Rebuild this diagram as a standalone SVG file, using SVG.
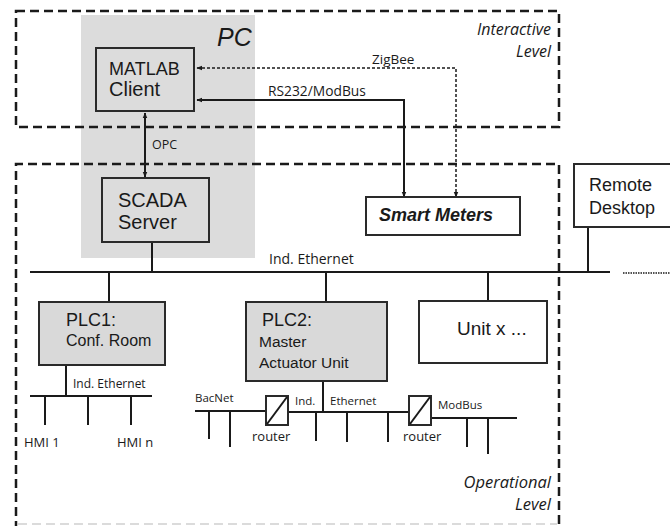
<svg xmlns="http://www.w3.org/2000/svg" width="670" height="526" viewBox="0 0 670 526">
<defs>
<marker id="ah" viewBox="0 0 10 10" refX="9" refY="5" markerWidth="6" markerHeight="6" orient="auto-start-reverse" markerUnits="userSpaceOnUse">
<path d="M0,1 L10,5 L0,9 z" fill="#1a1a1a"/>
</marker>
<style>
.lvl{fill:none;stroke:#1a1a1a;stroke-width:2.5;stroke-dasharray:9 5}
.box{stroke:#2a2a2a;stroke-width:2;fill:none}
.gbox{stroke:#2a2a2a;stroke-width:2;fill:#d9d9d9}
.wbox{stroke:#2a2a2a;stroke-width:2;fill:#fff}
.ln{stroke:#1a1a1a;stroke-width:2;fill:none}
.t{font-family:"Liberation Sans",Arial,sans-serif;fill:#1a1a1a}
.c{font-family:"Open Sans","Noto Sans",sans-serif;fill:#1a1a1a}
.it{font-style:italic}
</style>
</defs>
<rect x="0" y="0" width="670" height="526" fill="#fff"/>
<g id="pc">
<rect x="81" y="15" width="174" height="243" fill="#dcdcdc"/>
<text class="t it" x="217" y="46" font-size="25">PC</text>
</g>
<g id="interactive-level">
<rect class="lvl" x="16" y="11" width="543" height="116"/>
<text class="c it" x="551" y="35" font-size="16" text-anchor="end">Interactive</text>
<text class="c it" x="551" y="57" font-size="16" text-anchor="end">Level</text>
</g>
<g id="operational-level">
<path class="lvl" d="M16,530 L16,164 L559,164 L559,524"/>
<path d="M18,524 L557,524" fill="none" stroke="#d0d0d0" stroke-width="1.5" stroke-dasharray="9 5"/>
<text class="c it" x="551" y="488" font-size="16.5" text-anchor="end">Operational</text>
<text class="c it" x="551" y="510" font-size="16.5" text-anchor="end">Level</text>
</g>
<g id="connectors">
<line class="ln" x1="145" y1="113" x2="145" y2="177" marker-start="url(#ah)" marker-end="url(#ah)"/>
<polyline points="456,197 456,68 197,68" fill="none" stroke="#1a1a1a" stroke-width="1.5" stroke-dasharray="3 2" marker-start="url(#ah)" marker-end="url(#ah)"/>
<polyline class="ln" points="404,197 404,100 197,100" marker-start="url(#ah)" marker-end="url(#ah)" stroke-width="1.6"/>
<line class="ln" x1="30" y1="272" x2="610" y2="272"/>
<line x1="623" y1="273" x2="670" y2="273" stroke="#1a1a1a" stroke-width="1.5" stroke-dasharray="1.5 1"/>
<line class="ln" x1="152" y1="242" x2="152" y2="272"/>
<line class="ln" x1="109" y1="272" x2="109" y2="302"/>
<line class="ln" x1="326" y1="272" x2="326" y2="302"/>
<line class="ln" x1="488" y1="272" x2="488" y2="301"/>
<line class="ln" x1="588" y1="227" x2="588" y2="272"/>
<line class="ln" x1="66" y1="365" x2="66" y2="396"/>
<line class="ln" x1="30" y1="396" x2="152" y2="396"/>
<line class="ln" x1="45" y1="396" x2="45" y2="425"/>
<line class="ln" x1="88" y1="396" x2="88" y2="425"/>
<line class="ln" x1="131" y1="396" x2="131" y2="425"/>
<line class="ln" x1="323" y1="381" x2="323" y2="411"/>
<line class="ln" x1="195" y1="411" x2="266" y2="411"/>
<line class="ln" x1="209" y1="411" x2="209" y2="439"/>
<line class="ln" x1="230" y1="411" x2="230" y2="447"/>
<line class="ln" x1="288" y1="412" x2="411" y2="412"/>
<line class="ln" x1="316" y1="412" x2="316" y2="441"/>
<line class="ln" x1="347" y1="412" x2="347" y2="442"/>
<line class="ln" x1="388" y1="412" x2="388" y2="442"/>
<line class="ln" x1="431" y1="418" x2="517" y2="418"/>
<line class="ln" x1="467" y1="418" x2="467" y2="447"/>
<line class="ln" x1="488" y1="418" x2="488" y2="454"/>
<text class="c" x="152" y="149" font-size="12.5">OPC</text>
<text class="c" x="372" y="64" font-size="13.5">ZigBee</text>
<text class="c" x="268" y="96" font-size="13.8">RS232/ModBus</text>
<text class="c" x="269" y="264" font-size="14">Ind. Ethernet</text>
<text class="c" x="73" y="388" font-size="12">Ind. Ethernet</text>
<text class="c" x="195" y="402" font-size="11.5">BacNet</text>
<text class="c" x="295" y="405" font-size="11.5">Ind.</text>
<text class="c" x="330" y="405" font-size="11.5">Ethernet</text>
<text class="c" x="438" y="409" font-size="11.5">ModBus</text>
<text class="c" x="24" y="447" font-size="13">HMI 1</text>
<text class="c" x="117" y="447" font-size="13">HMI n</text>
</g>
<g id="matlab-client">
<rect class="box" x="96" y="48" width="98" height="63"/>
<text class="t" x="109" y="75" font-size="18">MATLAB</text>
<text class="t" x="109" y="96" font-size="20">Client</text>
</g>
<g id="scada-server">
<rect class="box" x="102" y="178" width="107" height="64"/>
<text class="t" x="118" y="207" font-size="20">SCADA</text>
<text class="t" x="118" y="229" font-size="20">Server</text>
</g>
<g id="smart-meters">
<rect class="wbox" x="366" y="197" width="154" height="38" stroke-width="2.5"/>
<text class="t it" x="379" y="221" font-size="18" font-weight="bold">Smart Meters</text>
</g>
<g id="remote-desktop">
<rect class="wbox" x="574" y="164" width="100" height="63"/>
<text class="t" x="589" y="191" font-size="18">Remote</text>
<text class="t" x="589" y="214" font-size="18">Desktop</text>
</g>
<g id="plc1">
<rect class="gbox" x="39" y="302" width="126" height="63"/>
<text class="t" x="66" y="326" font-size="18">PLC1:</text>
<text class="t" x="66" y="346" font-size="16">Conf. Room</text>
</g>
<g id="plc2">
<rect class="gbox" x="246" y="302" width="141" height="79" stroke-width="2.5"/>
<text class="t" x="262" y="326" font-size="18">PLC2:</text>
<text class="t" x="259" y="347" font-size="15.5">Master</text>
<text class="t" x="259" y="368" font-size="15.5">Actuator Unit</text>
</g>
<g id="unit-x">
<rect class="wbox" x="419" y="301" width="128" height="62"/>
<text class="t" x="457" y="335" font-size="19">Unit x  ...</text>
</g>
<g id="router1">
<rect class="wbox" x="266" y="396" width="22" height="29"/>
<line class="ln" x1="267" y1="424" x2="287" y2="397" stroke-width="1.6"/>
<text class="c" x="252" y="441" font-size="13">router</text>
</g>
<g id="router2">
<rect class="wbox" x="409" y="396" width="22" height="29"/>
<line class="ln" x1="410" y1="424" x2="430" y2="397" stroke-width="1.6"/>
<text class="c" x="403" y="441" font-size="13">router</text>
</g>
</svg>
